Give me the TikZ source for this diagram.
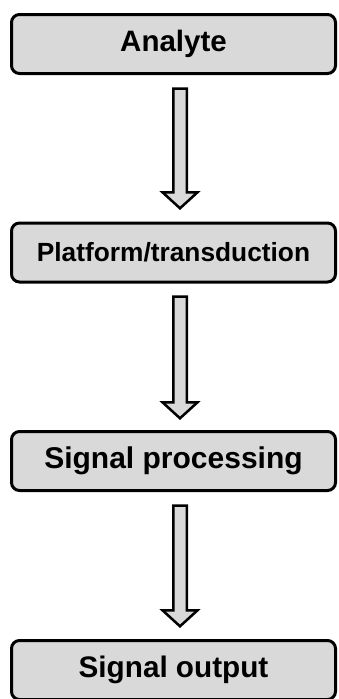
\documentclass[tikz,border=0pt]{standalone}
\usepackage{fontspec}
\setmainfont{Liberation Sans}
\usetikzlibrary{calc}
\definecolor{boxgray}{HTML}{D9D9D9}
\tikzset{
  stagebox/.style={draw=black, line width=3pt, fill=boxgray, rounded corners=8pt,
    minimum width=324pt, minimum height=59pt, inner sep=0pt, font=\bfseries},
  blk/.style={draw=black, line width=2.5pt, fill=boxgray, line join=miter},
}
\newcommand\blkarrow[2]{%
  \draw[blk] ($(#1)+(-6.75,0)$) -- ($(#2)+(-6.75,-16)$) -- ($(#2)+(-17.5,-16)$) -- (#2)
    -- ($(#2)+(17.5,-16)$) -- ($(#2)+(6.75,-16)$) -- ($(#1)+(6.75,0)$) -- cycle;}
\begin{document}
\begin{tikzpicture}[x=1pt,y=-1pt]
\useasboundingbox (0,0) rectangle (338,699);
\node[stagebox, font=\fontsize{29.5}{32}\bfseries\selectfont] (n1) at (173.5,44) {Analyte};
\node[stagebox, font=\fontsize{26.3}{30}\bfseries\selectfont] (n2) at (173.5,252.5) {Platform/transduction};
\node[stagebox, font=\fontsize{30}{33}\bfseries\selectfont] (n3) at (173.5,461) {Signal processing};
\node[stagebox, font=\fontsize{29.7}{33}\bfseries\selectfont] (n4) at (173.5,670) {Signal output};
\coordinate (a1s) at (180,88.5);
\coordinate (a1e) at (180,208.3);
\coordinate (a2s) at (180,296.5);
\coordinate (a2e) at (180,418.3);
\coordinate (a3s) at (180,505.5);
\coordinate (a3e) at (180,626.3);
\blkarrow{a1s}{a1e}
\blkarrow{a2s}{a2e}
\blkarrow{a3s}{a3e}
\end{tikzpicture}
\end{document}
